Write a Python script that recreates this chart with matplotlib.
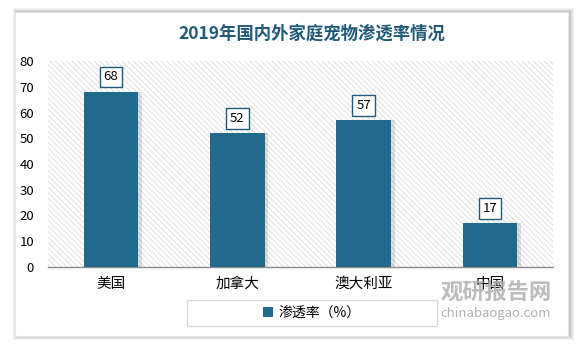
import matplotlib.pyplot as plt
import matplotlib.patches as mpatches
import numpy as np

plt.rcParams['font.family'] = ['Noto Sans CJK SC', 'DejaVu Sans']
plt.rcParams['hatch.color'] = '#D2D2D2'
plt.rcParams['hatch.linewidth'] = 0.5

# data
countries = ['美国', '加拿大', '澳大利亚', '中国']
rates = [68, 52, 57, 17]
yticks = [0, 10, 20, 30, 40, 50, 60, 70, 80]
title = '2019年国内外家庭宠物渗透率情况'
series_name = '渗透率（%）'

W, H = 583, 348
bar_color = '#1F6A8D'
dark = '#1F5A78'

fig = plt.figure(figsize=(W / 100, H / 100), dpi=100)
fig.patch.set_facecolor('white')

# outer frame with soft shadow
for i, a in enumerate([0.05, 0.05, 0.06, 0.07]):
    d = 4 - i
    fig.patches.append(mpatches.Rectangle(((15 - d + 2) / W, 1 - (336 + d) / H), (553 + 2 * d) / W, (324 + 2 * d) / H,
                                          transform=fig.transFigure, facecolor='black', alpha=a,
                                          edgecolor='none', zorder=0))
fig.patches.append(mpatches.Rectangle((15 / W, 1 - 336 / H), 553 / W, 324 / H, transform=fig.transFigure,
                                      facecolor='white', edgecolor='#E6E6E6', lw=0.8, zorder=1))

# legend frame
fig.patches.append(mpatches.Rectangle((187 / W, 1 - 326 / H), 250 / W, 26 / H, transform=fig.transFigure,
                                      facecolor='white', edgecolor='#D9D9D9', lw=1, zorder=1))

ax = fig.add_axes([48 / W, 1 - 267 / H, (553 - 48) / W, (267 - 61) / H])
ax.set_zorder(2)
ax.patch.set_facecolor('white')
ax.patch.set_hatch('\\' * 6)
ax.patch.set_edgecolor('#D2D2D2')
ax.patch.set_linewidth(0)

x = np.arange(len(countries))
# bar shadows
ax.bar(x + 0.03, rates, width=0.43, color='#000000', alpha=0.12, zorder=2)
bars = ax.bar(x, rates, width=0.43, color=bar_color, zorder=3)

for xi, v in zip(x, rates):
    ax.text(xi, v + 5.8, str(v), ha='center', va='center', fontsize=9.5, color='black', zorder=4,
            bbox=dict(boxstyle='square,pad=0.3', facecolor='white', edgecolor=dark, lw=1))

ax.set_xlim(-0.5, len(countries) - 0.5)
ax.set_ylim(0, 80)
ax.set_yticks(yticks)
ax.set_yticklabels([str(t) for t in yticks], fontsize=9.5)
ax.set_xticks(x)
ax.set_xticklabels(countries, fontsize=10.5)
ax.tick_params(axis='both', length=0)
ax.tick_params(axis='y', pad=10)
ax.tick_params(axis='x', pad=7)
for s in ['top', 'right', 'left']:
    ax.spines[s].set_visible(False)
ax.spines['bottom'].set_color('#8C8C8C')
ax.spines['bottom'].set_linewidth(1)

fig.text(312 / W, 1 - 34 / H, title, ha='center', va='center', fontsize=12.5, fontweight='bold', color=dark)

# watermark
fig.text(496 / W, 1 - 293 / H, '观研报告网', ha='center', va='center', fontsize=16, fontweight='heavy',
         color='#AFAFAF', alpha=0.85, zorder=5)
fig.text(496 / W, 1 - 313 / H, 'chinabaogao.com', ha='center', va='center', fontsize=9.5,
         color='#A8A8A8', alpha=0.9, zorder=5)

handle = mpatches.Patch(facecolor=bar_color, edgecolor='none')
leg = fig.legend([handle], [series_name], loc='center', bbox_to_anchor=(312 / W, 1 - 313 / H),
                 frameon=False, fontsize=10, handlelength=0.7, handleheight=0.7,
                 handletextpad=0.4, borderpad=0.45)
leg.set_zorder(6)

fig.savefig('out.png', dpi=100)
